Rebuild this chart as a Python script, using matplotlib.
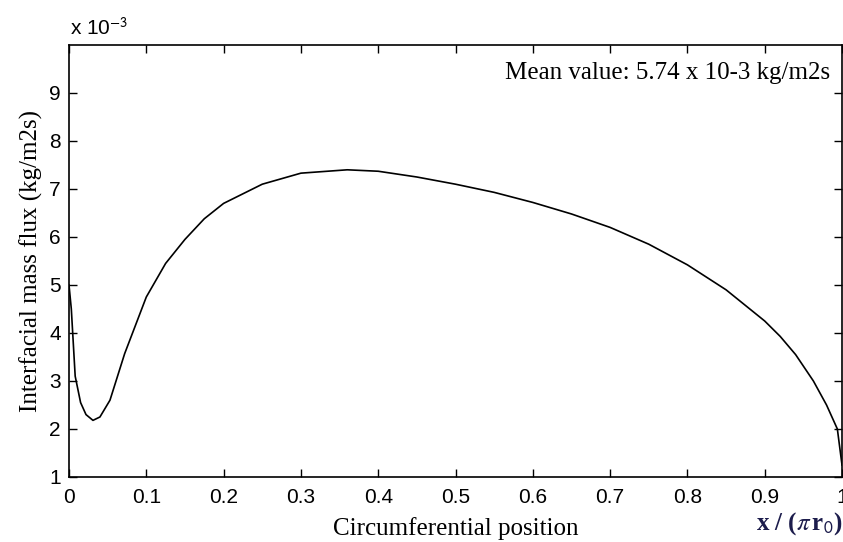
import matplotlib
matplotlib.use('Agg')
import matplotlib.pyplot as plt
import numpy as np

# circumferential position (x / pi r0) and interfacial mass flux (x 1e-3 kg/m2s)
pos = [0.0, 0.003, 0.008, 0.015, 0.022, 0.031, 0.04, 0.053, 0.072, 0.1,
       0.125, 0.15, 0.175, 0.2, 0.25, 0.3, 0.36, 0.4, 0.45, 0.5, 0.55, 0.6,
       0.65, 0.7, 0.75, 0.8, 0.85, 0.9, 0.92, 0.94, 0.963, 0.98, 0.994, 1.0]
flux = [5.0, 4.5, 3.1, 2.55, 2.3, 2.18, 2.25, 2.6, 3.57, 4.75,
        5.45, 5.95, 6.38, 6.7, 7.1, 7.33, 7.40, 7.37, 7.25, 7.1, 6.93, 6.72,
        6.48, 6.2, 5.85, 5.42, 4.9, 4.25, 3.93, 3.55, 3.0, 2.5, 2.0, 1.25]
xticks = [0, 0.1, 0.2, 0.3, 0.4, 0.5, 0.6, 0.7, 0.8, 0.9, 1]
xticklabels = ['0', '0.1', '0.2', '0.3', '0.4', '0.5', '0.6', '0.7', '0.8', '0.9', '1']
yticks = [1, 2, 3, 4, 5, 6, 7, 8, 9]

plt.rcParams['mathtext.fontset'] = 'stix'

fig = plt.figure(figsize=(8.43, 5.42), dpi=100)
ax = fig.add_axes([69 / 843, 1 - 477 / 542, 773 / 843, 432 / 542])

ax.plot(pos, flux, color='black', linewidth=1.2)
ax.set_xlim(0, 1)
ax.set_ylim(1, 10)
ax.set_xticks(xticks)
ax.set_xticklabels(xticklabels)
ax.set_yticks(yticks)
ax.tick_params(direction='in', top=True, right=True, length=6, width=1,
               labelsize=15)
ax.tick_params(axis='x', pad=8)
ax.tick_params(axis='y', pad=6)
for lab in ax.get_xticklabels() + ax.get_yticklabels():
    lab.set_fontfamily('Liberation Sans')
for s in ax.spines.values():
    s.set_linewidth(1.2)

ax.set_ylabel('Interfacial mass flux (kg/m2s)', family='Liberation Serif',
              fontsize=18, labelpad=4)
ax.set_xlabel('Circumferential position', family='Liberation Serif',
              fontsize=18, labelpad=7)

ax.text(0.985, 0.935, 'Mean value: 5.74 x 10-3 kg/m2s', transform=ax.transAxes,
        ha='right', va='center', family='Liberation Serif', fontsize=18)
fig.text(70 / 843, 1 - 28 / 542, r'x 10$^{\mathsf{-3}}$', ha='left', va='center',
         family='Liberation Sans', fontsize=15)
fig.text(842 / 843, 1 - 524 / 542, r'x / ($\pi\,$r$_{\mathsf{0}}$)', ha='right',
         va='center', family='Liberation Serif', fontsize=18, fontweight='bold',
         color='#1c1c4c')

fig.savefig('out.png', dpi=100)
